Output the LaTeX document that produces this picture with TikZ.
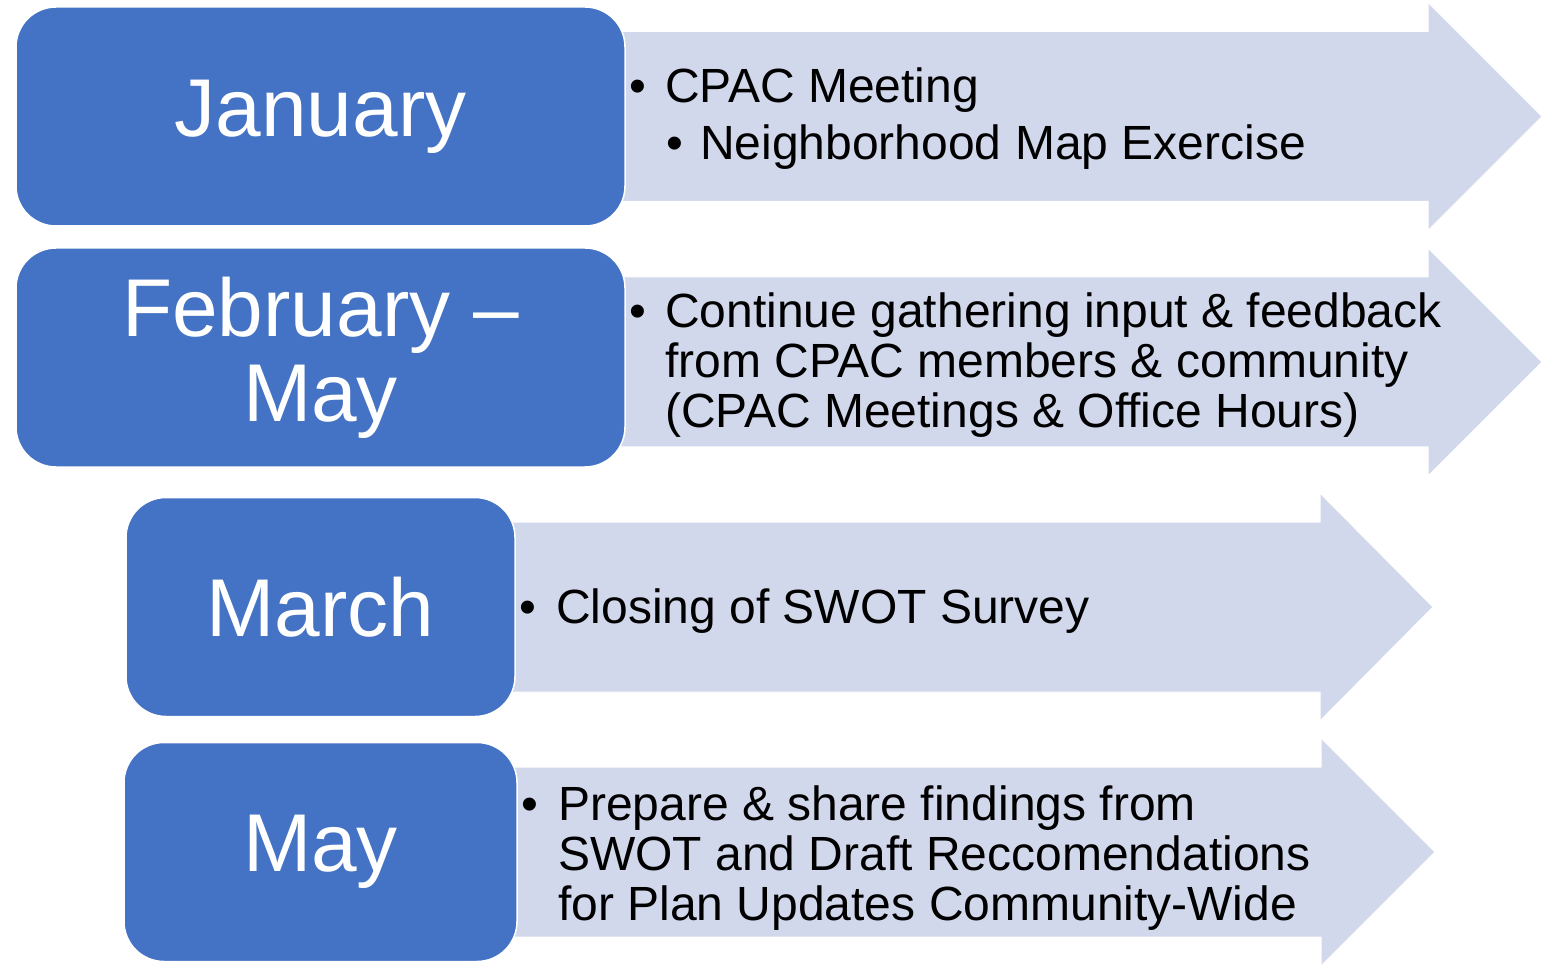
\documentclass[tikz,border=0pt]{standalone}
\usepackage{fontspec}
\setmainfont{Liberation Sans}
\usepackage{tikz}
\usetikzlibrary{positioning}
\definecolor{monthblue}{RGB}{68,114,196}
\definecolor{bandgrey}{RGB}{210,216,235}

\tikzset{
  month/.style={draw=white, line width=1.5pt, fill=monthblue, text=white,
    rounded corners=40pt, minimum width=609pt, minimum height=219pt,
    align=center, font=\fontsize{82}{85}\selectfont},
  item/.style={inner sep=0pt, anchor=base west, font=\fontsize{48}{50}\selectfont},
  band/.style={fill=bandgrey, draw=white, line width=1pt}
}

\begin{document}
\begin{tikzpicture}[x=1pt, y=-1pt]
  \useasboundingbox (0,0) rectangle (1556,965);

  % arrows behind the month boxes
  \foreach \yc/\xl/\xh/\xt in {116.5/600/1428/1542, 362/600/1428/1542,
                               607/490/1320/1433, 852/490/1321/1435} {
    \path[band] (\xl,{\yc-85}) -- (\xh,{\yc-85}) -- (\xh,{\yc-114})
      -- (\xt,\yc) -- (\xh,{\yc+114}) -- (\xh,{\yc+85}) -- (\xl,{\yc+85}) -- cycle;
  }

  % months
  \node[month] (jan) at (320.5,116.5) {January};
  \node[month] (feb) at (320.5,357.5) {February --\\May};
  \node[month, minimum width=389pt] (mar) at (320.5,607) {March};
  \node[month, minimum width=393pt] (may) at (320.5,852) {May};

  % items
  \node[item] (jan1) at (629,103) {\makebox[36pt][l]{\textbullet}CPAC Meeting};
  \node[item] (jan2) at (666,160) {\makebox[34pt][l]{\textbullet}Neighborhood Map Exercise};
  \node[item] (feb1) at (629,328) {\begin{tabular}[t]{@{}l@{}l@{}}
    \makebox[36pt][l]{\textbullet} & Continue gathering input \& feedback\\
    & from CPAC members \& community\\
    & (CPAC Meetings \& Office Hours)\end{tabular}};
  \node[item] (mar1) at (519,623) {\makebox[37pt][l]{\textbullet}Closing of SWOT Survey};
  \node[item] (may1) at (521,820) {\begin{tabular}[t]{@{}l@{}l@{}}
    \makebox[37pt][l]{\textbullet} & Prepare \& share findings from\\
    & SWOT and Draft Reccomendations\\
    & for Plan Updates Community-Wide\end{tabular}};
\end{tikzpicture}
\end{document}
